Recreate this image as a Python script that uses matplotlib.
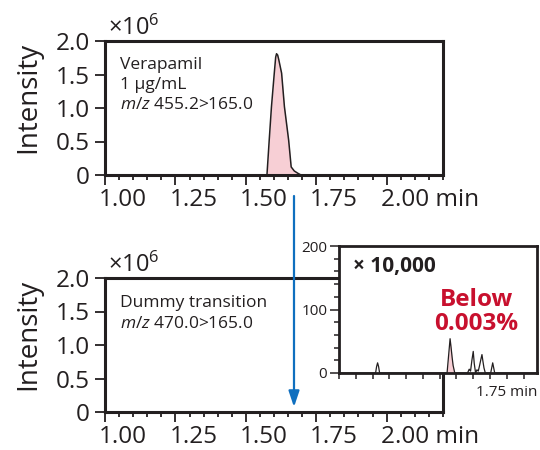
import matplotlib
matplotlib.use("Agg")
import matplotlib.pyplot as plt
from matplotlib.ticker import MultipleLocator, FixedLocator, NullFormatter
from matplotlib.transforms import ScaledTranslation
from matplotlib.patches import FancyArrowPatch, ArrowStyle

plt.rcParams['font.family'] = ['Open Sans', 'DejaVu Sans']
plt.rcParams['mathtext.fontset'] = 'custom'
plt.rcParams['mathtext.rm'] = 'Open Sans'
plt.rcParams['mathtext.it'] = 'Open Sans:italic'

# ---- data ----
vera_t = [1.00, 1.575, 1.583, 1.591, 1.601, 1.606, 1.609, 1.613, 1.617, 1.627,
          1.637, 1.652, 1.661, 1.672, 1.685, 1.696, 2.20]
vera_i = [0, 0, 0.52, 1.02, 1.52, 1.76, 1.81, 1.79, 1.72, 1.52,
          1.02, 0.52, 0.12, 0.06, 0.025, 0, 0]          # x10^6

dummy_t = [1.30, 1.409, 1.412, 1.415, 1.418, 1.421,
           1.622, 1.627, 1.631, 1.634, 1.637, 1.640, 1.645,
           1.683, 1.688, 1.692, 1.696, 1.700, 1.703, 1.707, 1.711, 1.715,
           1.719, 1.723, 1.726, 1.729, 1.732, 1.736,
           1.752, 1.755, 1.758, 1.761, 1.764, 1.89]
dummy_i = [0, 0, 10, 16, 10, 0,
           0, 30, 54, 40, 25, 12, 0,
           0, 6, 3, 20, 34, 15, 0, 5, 3,
           12, 22, 29, 18, 8, 0,
           0, 8, 16, 8, 0, 0]                           # raw (inset scale)

pk_t = [1.622, 1.627, 1.631, 1.634, 1.637, 1.640, 1.645]
pk_i = [0, 30, 54, 40, 25, 12, 0]

main_xticks = [1.00, 1.25, 1.50, 1.75, 2.00]
main_xlabels = ["1.00", "1.25", "1.50", "1.75", "2.00 min"]
main_yticks = [0, 0.5, 1.0, 1.5, 2.0]
main_ylabels = ["0", "0.5", "1.0", "1.5", "2.0"]
inset_yticks = [0, 100, 200]
inset_ylabels = ["0", "100", "200"]

INK = '#231f20'
PINK = '#f7cfd5'
RED = '#c8102e'
BLUE = '#0f6fbf'

fig = plt.figure(figsize=(5.4, 4.5), dpi=100)
W, H = 540, 450

def ax_px(l, t, r, b):
    return [l / W, 1 - b / H, (r - l) / W, (b - t) / H]

def style_main(ax):
    ax.set_xlim(1.0, 2.2)
    ax.set_ylim(0, 2.0)
    for s in ax.spines.values():
        s.set_linewidth(2.2)
        s.set_color(INK)
    ax.xaxis.set_major_locator(FixedLocator(main_xticks))
    ax.set_xticklabels(main_xlabels)
    ax.xaxis.set_minor_locator(MultipleLocator(0.05))
    ax.set_yticks(main_yticks)
    ax.set_yticklabels(main_ylabels)
    ax.tick_params(axis='both', which='major', length=7, width=1.3, color=INK,
                   labelsize=17.5, labelcolor=INK, direction='out')
    ax.tick_params(axis='x', which='major', pad=2.5)
    ax.tick_params(axis='y', which='major', pad=4)
    ax.tick_params(axis='x', which='minor', length=3.8, width=1.3, color=INK)
    off = ScaledTranslation(-6 / 100, 0, fig.dpi_scale_trans)
    for tk in ax.xaxis.get_major_ticks():
        tk.label1.set_horizontalalignment('left')
        tk.label1.set_transform(tk.label1.get_transform() + off)
    ax.set_ylabel('Intensity', fontsize=20, color=INK)
    ax.yaxis.set_label_coords(-0.185, 0.58)
    ax.text(0.008, 1.0, '×10$^{6}$', transform=ax.transAxes, fontsize=17,
            color=INK, ha='left', va='bottom')

# top chart
ax1 = fig.add_axes(ax_px(105, 41, 443, 175))
style_main(ax1)
ax1.fill_between(vera_t, vera_i, 0, color=PINK, lw=0)
ax1.plot(vera_t, vera_i, color=INK, lw=1.1)
ax1.text(0.045, 0.82, 'Verapamil', transform=ax1.transAxes, fontsize=12.5,
         color=INK, va='center')
ax1.text(0.045, 0.67, '1 µg/mL', transform=ax1.transAxes, fontsize=12.5,
         color=INK, va='center')
ax1.text(0.045, 0.52, '$\\mathit{m/z}$ 455.2>165.0', transform=ax1.transAxes,
         fontsize=12.5, color=INK, va='center')

# bottom chart
ax2 = fig.add_axes(ax_px(105, 278, 443, 412))
style_main(ax2)
ax2.plot(dummy_t, [v / 1e6 for v in dummy_i], color=INK, lw=1.0)
ax2.text(0.045, 0.81, 'Dummy transition', transform=ax2.transAxes, fontsize=12.5,
         color=INK, va='center')
ax2.text(0.045, 0.66, '$\\mathit{m/z}$ 470.0>165.0', transform=ax2.transAxes,
         fontsize=12.5, color=INK, va='center')

# inset
ax3 = fig.add_axes(ax_px(339, 246, 537, 373))
ax3.set_zorder(3)
ax3.set_facecolor('white')
ax3.set_xlim(1.30, 1.89)
ax3.set_ylim(0, 200)
for s in ax3.spines.values():
    s.set_linewidth(2.0)
    s.set_color(INK)
ax3.fill_between(pk_t, pk_i, 0, color=PINK, lw=0)
ax3.plot(dummy_t, dummy_i, color=INK, lw=0.9)
ax3.xaxis.set_major_locator(MultipleLocator(0.05))
ax3.xaxis.set_major_formatter(NullFormatter())
ax3.set_yticks(inset_yticks)
ax3.set_yticklabels(inset_ylabels)
ax3.yaxis.set_minor_locator(MultipleLocator(20))
ax3.tick_params(axis='x', which='major', length=4, width=1.1, color=INK)
ax3.tick_params(axis='y', which='major', length=6.5, width=1.1, color=INK,
                labelsize=11, labelcolor=INK, pad=2)
ax3.tick_params(axis='y', which='minor', length=3.8, width=1.1, color=INK)
ax3.text(1.0, -0.15, '1.75 min', transform=ax3.transAxes, fontsize=11,
         color=INK, ha='right', va='center')
ax3.text(0.07, 0.84, '× 10,000', transform=ax3.transAxes, fontsize=15,
         fontweight='bold', color=INK, va='center')
ax3.text(0.695, 0.48, 'Below\n0.003%', transform=ax3.transAxes, fontsize=17.5,
         fontweight='bold', color=RED, ha='center', va='center', linespacing=0.95)

# arrow
arr = FancyArrowPatch((294 / W, 1 - 196 / H), (294 / W, 1 - 407 / H),
                      transform=fig.transFigure, color=BLUE, lw=1.6,
                      arrowstyle=ArrowStyle('-|>', head_length=0.95, head_width=0.32),
                      mutation_scale=10, zorder=5, shrinkA=0, shrinkB=0)
fig.add_artist(arr)

fig.savefig('out.png', dpi=100, facecolor='white')
